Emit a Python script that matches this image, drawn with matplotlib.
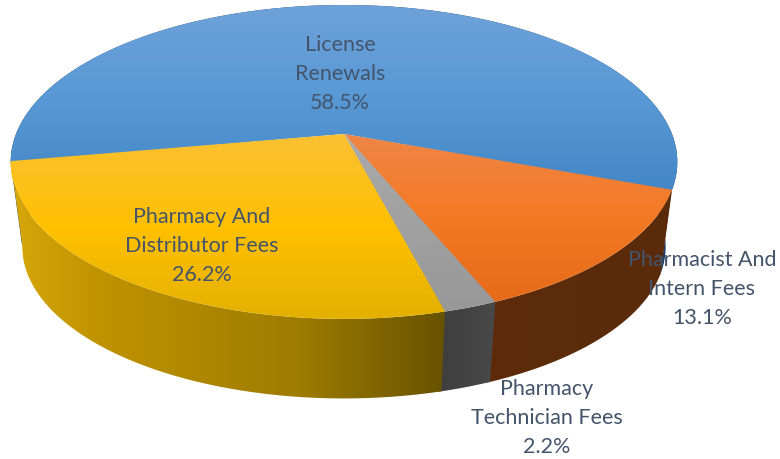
import numpy as np
import matplotlib
matplotlib.use("Agg")
import matplotlib.pyplot as plt
from matplotlib.path import Path
from matplotlib.patches import PathPatch

# clockwise from the orange/blue boundary on the right
labels = ["Pharmacist And\nIntern Fees", "Pharmacy\nTechnician Fees",
          "Pharmacy And\nDistributor Fees", "License\nRenewals"]
values = [13.1, 2.2, 26.2, 58.5]

label_pos = [(702, 289), (547, 418), (202, 246), (340, 74)]

# gradient stops, (pixel position, colour)
top_stops = [
    [(130, "#EE8648"), (215, "#F47A25"), (310, "#E46A18")],
    [(130, "#ABABAB"), (320, "#979797")],
    [(130, "#FBC136"), (230, "#FFC000"), (325, "#E2B000")],
    [(0, "#70A2DA"), (90, "#5A9AD6"), (200, "#4285C5")],
]
side_stops = [
    [(470, "#5E2C0B"), (690, "#5A2A0A")],
    [(425, "#3C3C3C"), (505, "#4A4A4A")],
    [(5, "#D9A90A"), (100, "#BF9300"), (300, "#9E7C00"), (445, "#675200"), (460, "#675200")],
    [(0, "#1E3F66"), (690, "#1E3F66")],
]

start_angle = 20.4
pad = np.radians(0.25)  # small overlap so no white seam shows between slices
cx, cy = 344, 135
A, B, k = 328, 152, 0.178
bottom_scale, bottom_cy = 0.965, 221


def project(theta, scale=1.0, centre_y=cy):
    u, v = np.cos(theta), np.sin(theta)
    w = 1 - k * v
    return cx + scale * A * u / w, centre_y + scale * B * v / w


def to_rgb_array(stops, n=400):
    pos = [s[0] for s in stops]
    cols = np.array([matplotlib.colors.to_rgb(s[1]) for s in stops])
    xs = np.linspace(pos[0], pos[-1], n)
    return np.stack([np.interp(xs, pos, cols[:, i]) for i in range(3)], axis=-1), pos[0], pos[-1]


def gradient_fill(ax, verts, stops, vertical=True):
    patch = PathPatch(Path(verts), transform=ax.transData, fc="none", ec="none")
    ax.add_patch(patch)
    rgb, lo, hi = to_rgb_array(stops)
    if vertical:
        img = ax.imshow(rgb[:, None, :], extent=(0, 780, hi, lo), origin="upper",
                        aspect="auto", interpolation="bilinear")
    else:
        img = ax.imshow(rgb[None, :, :], extent=(lo, hi, 460, 0), origin="upper",
                        aspect="auto", interpolation="bilinear")
    img.set_clip_path(patch)


fig = plt.figure(figsize=(7.8, 4.6), dpi=100)
ax = fig.add_axes([0, 0, 1, 1])

edges = np.radians(start_angle + np.concatenate([[0], np.cumsum(values)]) * 3.6)

# side walls first, tops over them
for i in [3, 0, 1, 2]:
    t = np.linspace(edges[i] - pad, edges[i + 1] + pad, 300)
    xt, yt = project(t)
    xb, yb = project(t[::-1], bottom_scale, bottom_cy)
    verts = np.column_stack([np.r_[xt, xb, xt[0]], np.r_[yt, yb, yt[0]]])
    gradient_fill(ax, verts, side_stops[i], vertical=False)

for i in [3, 0, 1, 2]:
    t = np.linspace(edges[i] - pad, edges[i + 1] + pad, 300)
    xt, yt = project(t)
    verts = np.column_stack([np.r_[cx, xt, cx], np.r_[cy, yt, cy]])
    gradient_fill(ax, verts, top_stops[i])

for lab, val, (x, y) in zip(labels, values, label_pos):
    ax.text(x, y, f"{lab}\n{val}%", ha="center", va="center", fontsize=15.5,
            family="Lato", color="#44546A", linespacing=1.56)

ax.set_xlim(0, 780)
ax.set_ylim(460, 0)
ax.axis("off")
fig.savefig("out.png", dpi=100)
